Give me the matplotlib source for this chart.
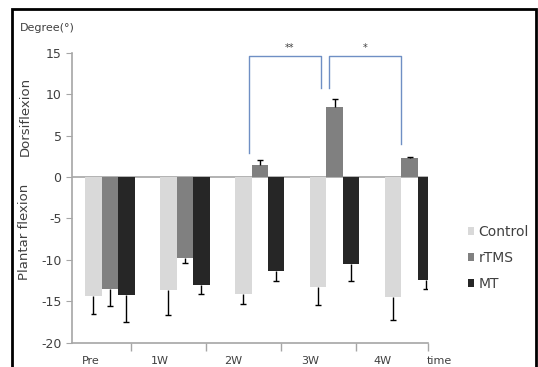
import numpy as np
import matplotlib.pyplot as plt
from matplotlib.patches import Rectangle

plt.rcParams["axes.unicode_minus"] = False

# Data
time_labels = ["Pre", "1W", "2W", "3W", "4W"]
groups = ["Control", "rTMS", "MT"]
control = [-14.4, -13.6, -14.1, -13.3, -14.5]
control_err = [2.1, 3.1, 1.2, 2.1, 2.7]
rtms = [-13.5, -9.8, 1.5, 8.45, 2.25]
rtms_err = [2.1, 0.6, 0.5, 0.95, 0.15]
mt = [-14.3, -13.0, -11.4, -10.5, -12.4]
mt_err = [3.2, 1.1, 1.1, 2.0, 1.1]

colors = ["#d9d9d9", "#808080", "#262626"]
axis_gray = "#a6a6a6"
text_col = "#404040"
bracket_col = "#6f8fc4"

fig = plt.figure(figsize=(5.38, 3.67), dpi=100)
ax = fig.add_axes([72 / 538, 1 - 342.7 / 367, (428.3 - 72) / 538, (342.7 - 52.7) / 367])

x = np.arange(len(time_labels))
w = 0.22
cap = 0.04
series = [(control, control_err), (rtms, rtms_err), (mt, mt_err)]
for k, (vals, errs) in enumerate(series):
    vals = np.array(vals)
    errs = np.array(errs)
    pos = x + (k - 1) * w
    ax.bar(pos, vals, width=w, color=colors[k], label=groups[k], zorder=2)
    # one-sided error bars, away from zero
    ends = vals + np.sign(vals) * errs
    ax.vlines(pos, vals, ends, color="black", lw=1, zorder=3)
    ax.hlines(ends, pos - cap, pos + cap, color="black", lw=1, zorder=3)

ax.axhline(0, color=axis_gray, lw=1.2, zorder=1)
ax.set_xlim(-0.507, 4.25)
ax.set_ylim(-20, 15)

for s in ["top", "right"]:
    ax.spines[s].set_visible(False)
for s in ["left", "bottom"]:
    ax.spines[s].set_color(axis_gray)
    ax.spines[s].set_linewidth(1.2)

ax.set_yticks([15, 10, 5, 0, -5, -10, -15, -20])
ax.tick_params(axis="y", colors=axis_gray, labelcolor=text_col, labelsize=9, length=4)
ax.set_xticks(np.append(x[:-1] + 0.28, 4.25))
ax.set_xticklabels([])
ax.tick_params(axis="x", colors=axis_gray, length=6, width=1)

label_pos = [-0.25, 0.67, 1.64, 2.67, 3.64]
for lp, lab in zip(label_pos, time_labels):
    ax.text(lp, -21.6, lab, ha="center", va="top", fontsize=8, color=text_col, clip_on=False)
ax.text(4.4, -21.6, "time", ha="center", va="top", fontsize=8, color=text_col, clip_on=False)

# significance brackets
ax.plot([1.86, 1.86, 2.82, 2.82], [2.9, 14.6, 14.6, 10.7], color=bracket_col, lw=1, clip_on=False)
ax.plot([2.92, 2.92, 3.89, 3.89], [10.7, 14.6, 14.6, 4.0], color=bracket_col, lw=1, clip_on=False)
ax.text(2.4, 15.0, "**", ha="center", va="bottom", fontsize=7, color=text_col, clip_on=False)
ax.text(3.4, 15.0, "*", ha="center", va="bottom", fontsize=7, color=text_col, clip_on=False)

fig.text(20 / 538, 1 - 28 / 367, "Degree(°)", fontsize=8, color=text_col, va="center")
fig.text(25 / 538, 1 - 116 / 367, "Dorsiflexion", rotation=90, fontsize=9.5,
         color=text_col, ha="center", va="center")
fig.text(25 / 538, 1 - 232 / 367, "Plantar flexion", rotation=90, fontsize=9.5,
         color=text_col, ha="center", va="center")

ax.legend(loc="center left", bbox_to_anchor=(455 / 538, 1 - 258 / 367),
          bbox_transform=fig.transFigure, frameon=False, fontsize=10,
          handlelength=0.5, handleheight=0.5, handletextpad=0.3, labelspacing=0.85,
          labelcolor=text_col)

fig.patches.append(Rectangle((12 / 538, -0.05), 524 / 538, 1.05 - 9 / 367, transform=fig.transFigure,
                             fill=False, edgecolor="black", lw=2))

fig.savefig("out.png", dpi=100)
